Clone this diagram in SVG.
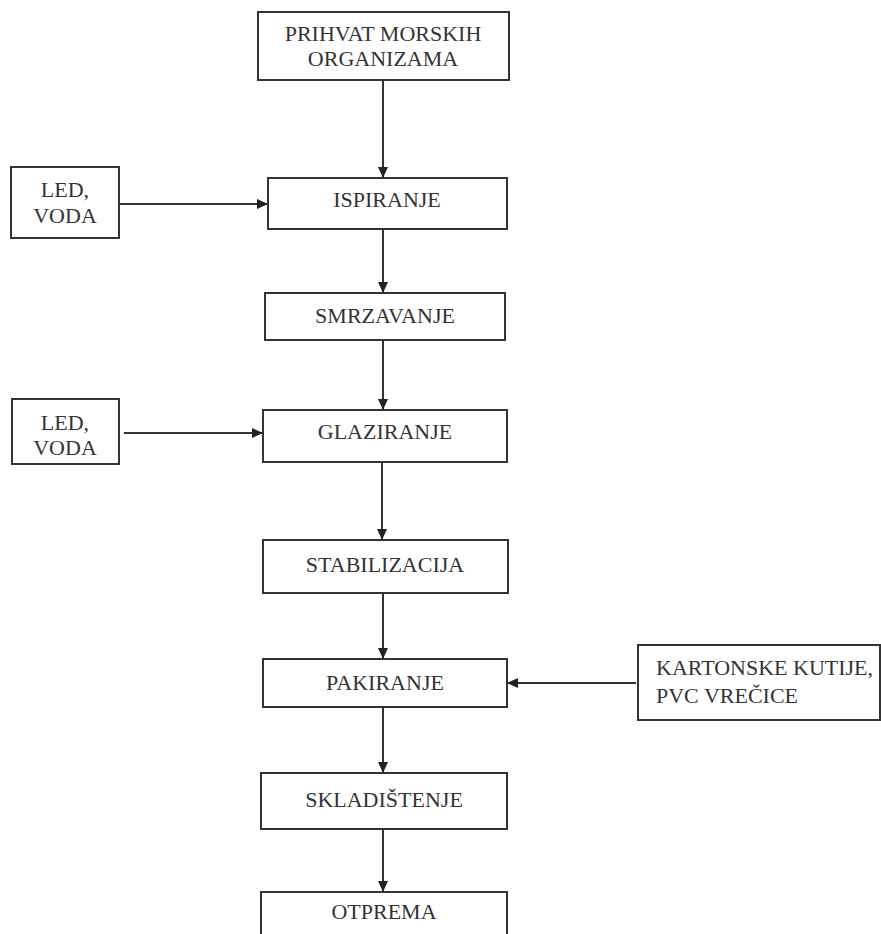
<svg xmlns="http://www.w3.org/2000/svg" width="881" height="934" viewBox="0 0 881 934">
<style>
.box{fill:#fff;stroke:#333;stroke-width:2}
.t{font-family:'Liberation Serif','DejaVu Serif',serif;font-size:22px;fill:#333}
.c{text-anchor:middle}
.con line{stroke:#333;stroke-width:2}
</style>
<defs>
<marker id="ah" markerUnits="userSpaceOnUse" markerWidth="12" markerHeight="10" refX="11" refY="5" orient="auto">
<path d="M0,0 L11,5 L0,10 Z" fill="#222"/>
</marker>
</defs>
<rect width="881" height="934" fill="#fff"/>
<g id="connectors" class="con">
<line x1="383" y1="80" x2="383" y2="178" marker-end="url(#ah)"/>
<line x1="119" y1="204" x2="268" y2="204" marker-end="url(#ah)"/>
<line x1="383" y1="229" x2="383" y2="293" marker-end="url(#ah)"/>
<line x1="383" y1="340" x2="383" y2="410" marker-end="url(#ah)"/>
<line x1="124" y1="433" x2="263" y2="433" marker-end="url(#ah)"/>
<line x1="382" y1="462" x2="382" y2="540" marker-end="url(#ah)"/>
<line x1="383" y1="593" x2="383" y2="659" marker-end="url(#ah)"/>
<line x1="636" y1="683" x2="507" y2="683" marker-end="url(#ah)"/>
<line x1="383" y1="707" x2="383" y2="773" marker-end="url(#ah)"/>
<line x1="383" y1="829" x2="383" y2="892" marker-end="url(#ah)"/>
</g>
<g id="prihvat">
<rect class="box" x="258" y="12" width="251" height="68"/>
<text class="t c" x="383" y="41">PRIHVAT MORSKIH</text>
<text class="t c" x="383" y="66">ORGANIZAMA</text>
</g>
<g id="led1">
<rect class="box" x="11" y="167" width="108" height="71"/>
<text class="t c" x="65" y="197">LED,</text>
<text class="t c" x="65" y="223">VODA</text>
</g>
<g id="ispiranje">
<rect class="box" x="268" y="178" width="239" height="51"/>
<text class="t c" x="387" y="207">ISPIRANJE</text>
</g>
<g id="smrzavanje">
<rect class="box" x="265" y="293" width="240" height="47"/>
<text class="t c" x="385" y="323">SMRZAVANJE</text>
</g>
<g id="led2">
<rect class="box" x="12" y="399" width="107" height="65"/>
<text class="t c" x="65" y="430">LED,</text>
<text class="t c" x="65" y="455">VODA</text>
</g>
<g id="glaziranje">
<rect class="box" x="263" y="410" width="244" height="52"/>
<text class="t c" x="385" y="439">GLAZIRANJE</text>
</g>
<g id="stabilizacija">
<rect class="box" x="263" y="540" width="245" height="53"/>
<text class="t c" x="385" y="572">STABILIZACIJA</text>
</g>
<g id="pakiranje">
<rect class="box" x="263" y="659" width="244" height="48"/>
<text class="t c" x="385" y="690">PAKIRANJE</text>
</g>
<g id="kartonske">
<rect class="box" x="638" y="645" width="242" height="75"/>
<text class="t" x="656" y="675">KARTONSKE KUTIJE,</text>
<text class="t" x="656" y="703">PVC VREČICE</text>
</g>
<g id="skladistenje">
<rect class="box" x="261" y="773" width="246" height="56"/>
<text class="t c" x="384" y="807">SKLADIŠTENJE</text>
</g>
<g id="otprema">
<rect class="box" x="261" y="892" width="246" height="60"/>
<text class="t c" x="384" y="919">OTPREMA</text>
</g>
</svg>
